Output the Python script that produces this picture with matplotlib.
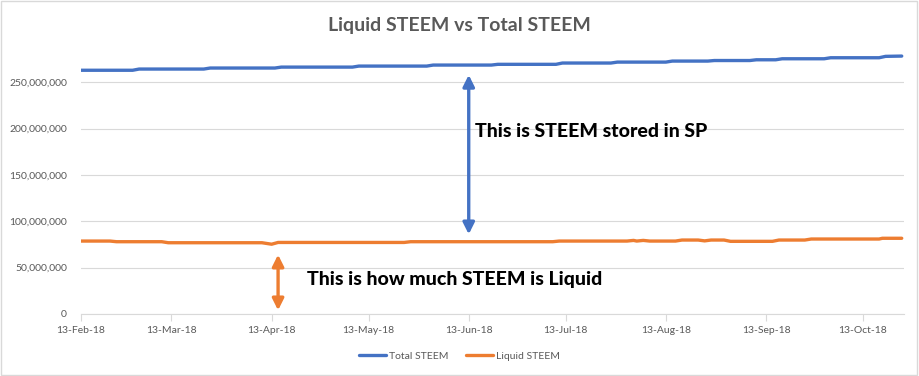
import matplotlib.pyplot as plt
import matplotlib.dates as mdates
from matplotlib.ticker import FuncFormatter
from matplotlib.patches import Rectangle
import pandas as pd

# Total STEEM (millions) - step-like growth
total_dates = ['2018-02-13', '2018-03-01', '2018-03-03', '2018-03-23', '2018-03-25',
               '2018-04-14', '2018-04-16', '2018-05-08', '2018-05-10', '2018-05-31',
               '2018-06-02', '2018-06-20', '2018-06-22', '2018-07-10', '2018-07-12',
               '2018-07-27', '2018-07-29', '2018-08-13', '2018-08-15', '2018-08-26',
               '2018-08-28', '2018-09-08', '2018-09-10', '2018-09-16', '2018-09-18',
               '2018-10-01', '2018-10-03', '2018-10-18', '2018-10-20', '2018-10-25']
total_values = [263.0, 263.0, 264.3, 264.3, 265.4,
                265.4, 266.4, 266.4, 267.5, 267.5,
                268.6, 268.6, 269.4, 269.4, 270.8,
                270.8, 271.8, 271.8, 272.9, 272.9,
                273.5, 273.5, 274.3, 274.3, 275.4,
                275.4, 276.5, 276.5, 278.0, 278.3]

# Liquid STEEM (millions)
liquid_dates = ['2018-02-13', '2018-02-22', '2018-02-24', '2018-03-10', '2018-03-12',
                '2018-04-10', '2018-04-13', '2018-04-15', '2018-05-24', '2018-05-26',
                '2018-07-09', '2018-07-11', '2018-08-01', '2018-08-03', '2018-08-04',
                '2018-08-06', '2018-08-08', '2018-08-16', '2018-08-18', '2018-08-23',
                '2018-08-25', '2018-08-27', '2018-08-31', '2018-09-02', '2018-09-15',
                '2018-09-17', '2018-09-25', '2018-09-27', '2018-10-18', '2018-10-19',
                '2018-10-25']
liquid_values = [78.7, 78.7, 78.0, 78.0, 76.9,
                 76.9, 75.3, 77.2, 77.2, 78.0,
                 78.0, 78.7, 78.7, 79.4, 78.7,
                 79.4, 78.7, 78.7, 79.8, 79.8,
                 78.9, 79.8, 79.8, 78.4, 78.4,
                 79.8, 79.8, 80.9, 80.9, 81.7,
                 81.7]

tick_dates = ['2018-02-13', '2018-03-13', '2018-04-13', '2018-05-13', '2018-06-13',
              '2018-07-13', '2018-08-13', '2018-09-13', '2018-10-13']
y_ticks = [0, 50, 100, 150, 200, 250]

BLUE = '#4472C4'
ORANGE = '#ED7D31'
GRAY = '#595959'
GRID = '#D9D9D9'

plt.rcParams['font.family'] = ['Lato', 'DejaVu Sans']

fig = plt.figure(figsize=(9.19, 3.76), dpi=100)
ax = fig.add_axes([0.0881, 0.1649, 0.8956, 0.7074])

td = pd.to_datetime(total_dates)
ld = pd.to_datetime(liquid_dates)
ax.plot(td, [v * 1e6 for v in total_values], color=BLUE, lw=2.4,
        label='Total STEEM', solid_capstyle='round', solid_joinstyle='round')
ax.plot(ld, [v * 1e6 for v in liquid_values], color=ORANGE, lw=2.4,
        label='Liquid STEEM', solid_capstyle='round', solid_joinstyle='round')

ax.set_xlim(pd.Timestamp('2018-02-13'), pd.Timestamp('2018-10-25 17:00'))
ax.set_ylim(0, 287e6)

ax.set_yticks([v * 1e6 for v in y_ticks])
ax.yaxis.set_major_formatter(FuncFormatter(lambda v, p: f'{v:,.0f}'))
ax.set_xticks(pd.to_datetime(tick_dates))
ax.xaxis.set_major_formatter(mdates.DateFormatter('%d-%b-%y'))
ax.tick_params(axis='y', length=0, pad=10, labelsize=7.5, labelcolor=GRAY)
ax.tick_params(axis='x', length=5, width=0.8, color=GRID, pad=4,
               labelsize=7.5, labelcolor=GRAY)
ax.grid(axis='y', color=GRID, lw=0.8)
ax.set_axisbelow(True)
for s in ['top', 'right', 'left']:
    ax.spines[s].set_visible(False)
ax.spines['bottom'].set_color(GRID)
ax.spines['bottom'].set_linewidth(0.8)

# annotation arrows
ax.annotate('', xy=(pd.Timestamp('2018-06-13'), 83e6), xytext=(pd.Timestamp('2018-06-13'), 261e6),
            arrowprops=dict(arrowstyle='<|-|>', color=BLUE, lw=2.4, mutation_scale=17))
ax.annotate('', xy=(pd.Timestamp('2018-04-15'), 1e6), xytext=(pd.Timestamp('2018-04-15'), 67e6),
            arrowprops=dict(arrowstyle='<|-|>', color=ORANGE, lw=2.4, mutation_scale=17))
ax.text(pd.Timestamp('2018-06-15'), 197e6, 'This is STEEM stored in SP',
        fontsize=14, fontweight=900, color='black', va='center', ha='left')
ax.text(pd.Timestamp('2018-04-24'), 36.7e6, 'This is how much STEEM is Liquid',
        fontsize=14, fontweight=900, color='black', va='center', ha='left')

fig.text(0.5, 0.931, 'Liquid STEEM vs Total STEEM', ha='center', va='center',
         fontsize=14, fontweight='bold', color=GRAY)

fig.legend(loc='center', bbox_to_anchor=(0.5, 0.053), ncol=2, frameon=False,
           fontsize=7.5, labelcolor=GRAY, handlelength=2.6, handletextpad=0.3,
           columnspacing=1.6)

fig.patches.append(Rectangle((0.001, 0.003), 0.997, 0.994, transform=fig.transFigure,
                             fill=False, edgecolor=GRID, lw=1))

fig.savefig('out.png', dpi=100)
